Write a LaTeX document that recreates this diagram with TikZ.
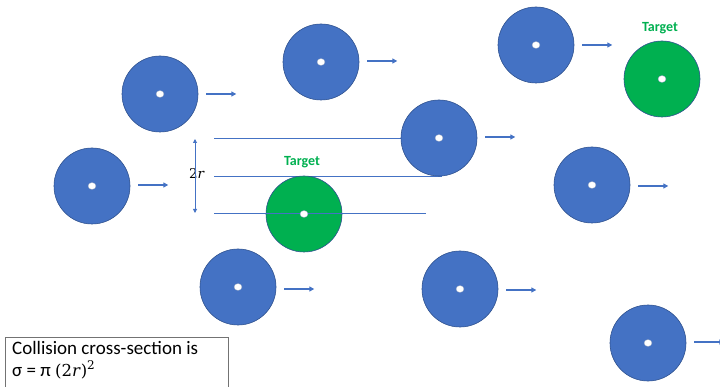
\documentclass[tikz,border=0pt]{standalone}
\usepackage{fontspec}
\setmainfont{Carlito}
\newfontfamily\mathlike{DejaVu Serif}
\usetikzlibrary{arrows.meta,shapes.geometric}
\definecolor{pblue}{HTML}{4472C4}
\definecolor{pblueline}{HTML}{2F528F}
\definecolor{pgreen}{HTML}{00B050}
\tikzset{
  ball/.style={circle, fill=pblue, draw=pblueline, line width=0.6pt, minimum size=76pt, inner sep=0pt},
  target/.style={circle, fill=pgreen, draw=pblueline, line width=0.6pt, minimum size=76pt, inner sep=0pt},
  hole/.style={ellipse, fill=white, draw=pblueline!60, line width=0.3pt, minimum width=8pt, minimum height=7pt, inner sep=0pt},
  mv/.style={draw=pblue, line width=1.3pt, -{Triangle[length=5pt,width=5pt]}},
  ray/.style={draw=pblue, line width=0.9pt},
  tlabel/.style={text=pgreen, font=\bfseries\fontsize{14}{16}\selectfont},
}
\begin{document}
\begin{tikzpicture}[x=1pt,y=-1pt]
\useasboundingbox (0,0) rectangle (720,387);
% rays
\coordinate (r1a) at (214,138); \coordinate (r1b) at (402,138);
\coordinate (r2a) at (214,176); \coordinate (r2b) at (442,176);
\coordinate (r3a) at (214,213); \coordinate (r3b) at (426,213);
\draw[ray] (r1a) -- (r1b);
\draw[ray] (r2a) -- (r2b);
% balls
\node[ball] (b1) at (160,94) {};
\node[ball] (b2) at (321,62) {};
\node[ball] (b3) at (536,45) {};
\node[ball] (b4) at (439,138) {};
\node[ball] (b5) at (92,186) {};
\node[ball] (b6) at (592,185) {};
\node[ball] (b7) at (238,287) {};
\node[ball] (b8) at (460,289) {};
\node[ball] (b9) at (648,343) {};
\node[target] (t1) at (304,214) {};
\node[target] (t2) at (662,79) {};
\draw[ray] (r3a) -- (r3b);
\foreach \n in {b1,b2,b3,b4,b5,b6,b7,b8,b9,t1,t2}{
  \node[hole] (h\n) at (\n.center) {};
}
\node[tlabel] (lt1) at (302,162) {Target};
\node[tlabel] (lt2) at (660,28) {Target};
% motion arrows
\foreach \n/\y in {b1/94,b2/61,b3/45,b4/137,b5/185,b6/186,b7/289,b8/290,b9/342}{
  \coordinate (s\n) at ([xshift=8pt]\n.east |- 0,\y);
  \coordinate (e\n) at ([xshift=38pt]\n.east |- 0,\y);
  \draw[mv] (s\n) -- (e\n);
}
% 2r dimension
\node[font=\mathlike\fontsize{13.5}{15}\selectfont] (twor) at (197,173) {2\textit{r}};
\coordinate (dtop) at (195,139);
\coordinate (dbot) at (195,213);
\draw[draw=pblue, line width=0.9pt, -{Triangle[length=4pt,width=4pt]}] ([yshift=-13pt]dtop |- twor) -- (dtop);
\draw[draw=pblue, line width=0.9pt, -{Triangle[length=4pt,width=4pt]}] ([yshift=13pt]dtop |- twor) -- (dbot);
% box
\node[draw=black!55, line width=0.6pt, anchor=north west, minimum width=223pt, minimum height=60pt, inner sep=0pt] (box) at (5,337) {};
\node[anchor=north west, align=left, font=\fontsize{19}{22}\selectfont, inner sep=0pt] (boxtxt) at (12,341.5)
  {Collision cross-section is\\ σ = π {\mathlike\fontsize{16.5}{22}\selectfont(2\textit{r})\raisebox{7pt}{\fontsize{12}{12}\selectfont 2}}};
\end{tikzpicture}
\end{document}
